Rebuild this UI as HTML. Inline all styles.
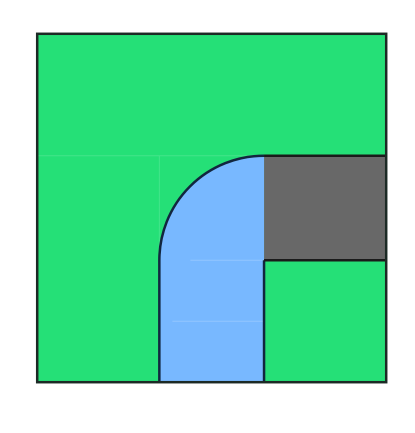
<!DOCTYPE html>
<html>
<head>
<meta charset="utf-8">
<style>
html,body{margin:0;padding:0;background:#fff;width:415px;height:433px;overflow:hidden}
svg{display:block}
</style>
</head>
<body>
<svg id="chart" width="415" height="433" viewBox="0 0 415 433" xmlns="http://www.w3.org/2000/svg"></svg>
<script>
const xDomain = [0, 10];
const yDomain = [0, 10];
const leftEdge = [3.5];
const rightEdge = [6.5];
const lowerEdge = [3.5];
const upperEdge = [6.5];
const faintRowsBlue = [1.75];
const sx = v => 37.2 + (v - xDomain[0]) / (xDomain[1] - xDomain[0]) * 349;
const sy = v => 382.2 - (v - yDomain[0]) / (yDomain[1] - yDomain[0]) * 348.4;
const svg = document.getElementById('chart');
const NS = 'http://www.w3.org/2000/svg';
function add(tag, attrs, parent) {
  const el = document.createElementNS(NS, tag);
  for (const k in attrs) el.setAttribute(k, attrs[k]);
  (parent || svg).appendChild(el);
  return el;
}
const xl = sx(leftEdge[0]), xr = sx(rightEdge[0]), yb = sy(lowerEdge[0]), yt = sy(upperEdge[0]);
const X0 = sx(xDomain[0]), X1 = sx(xDomain[1]), Y0 = sy(yDomain[0]), Y1 = sy(yDomain[1]);

const green = add('rect', {x: X0, y: Y1, width: X1 - X0, height: Y0 - Y1, fill: '#25e077'});



const gray = add('rect', {x: xr, y: yt, width: X1 - xr, height: yb - yt, fill: '#686868'});



const blueShape = `M${xl} ${Y0} L${xl} ${yb} A${xr - xl} ${yb - yt} 0 0 1 ${xr} ${yt} L${xr} ${Y0} Z`;
const blue = add('path', {d: blueShape, fill: '#78b8ff'});



const faint1 = add('path', {d: `M${X0} ${yt} H${xr} M${xl} ${yt} V${yb}`, stroke: '#ffffff', 'stroke-opacity': 0.14, 'stroke-width': 1, fill: 'none'});



const faint2 = add('path', {d: `M${xl + 31} ${yb} H${xr} M${xl + 13} ${sy(faintRowsBlue[0])} H${xr}`, stroke: '#ffffff', 'stroke-opacity': 0.2, 'stroke-width': 1, fill: 'none'});



const curve = add('path', {d: `M${xl} ${Y0} L${xl} ${yb} A${xr - xl} ${yb - yt} 0 0 1 ${xr} ${yt} M${xr} ${yb} L${xr} ${Y0}`, stroke: '#12263f', 'stroke-width': 2.5, fill: 'none'});



const dark = add('path', {d: `M${xr} ${yt} H${X1} M${xr} ${yb} H${X1}`, stroke: '#1a1a1a', 'stroke-width': 2.5, fill: 'none'});



const frame = add('rect', {x: X0, y: Y1, width: X1 - X0, height: Y0 - Y1, fill: 'none', stroke: '#1c2a25', 'stroke-width': 2.5});


</script>
</body>
</html>
